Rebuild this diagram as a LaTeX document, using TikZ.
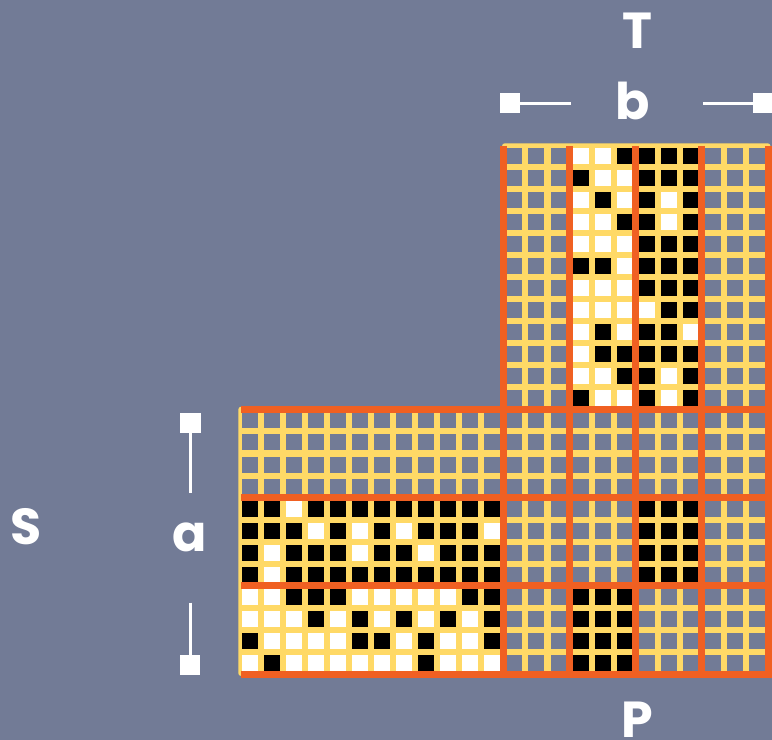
\documentclass[tikz,border=0pt]{standalone}
\usepackage{fontspec}
\setmainfont{Poppins}
\usepackage{tikz}
\usetikzlibrary{arrows.meta,positioning}
\definecolor{slate}{RGB}{114,123,150}
\definecolor{gridyellow}{RGB}{255,217,102}
\definecolor{blockorange}{RGB}{240,96,34}
\colorlet{cw}{white}
\colorlet{cb}{black}

\begin{document}
\begin{tikzpicture}[
    x=0.025cm, y=-0.025cm,
    lbl/.style={text=white, font=\fontsize{36}{40}\selectfont\bfseries, inner sep=0pt, anchor=base},
    dimline/.style={draw=white, line width=0.075cm, -{Square[length=0.5cm, width=0.5cm]}},
    band/.style={draw=blockorange, line width=0.175cm},
    cellsq/.style={fill=#1},
]
\useasboundingbox[fill=slate] (0,0) rectangle (772,740);

% yellow grid
\fill[gridyellow, rounded corners=2] (502,143.3) rectangle (770.5,409.3);
\fill[gridyellow, rounded corners=2] (238.3,406.7) rectangle (770.5,676);

% empty cells
\foreach \r in {0,...,11}
  \foreach \c in {12,...,23}
    \fill[slate] ({238.5+22.07*\c+3.03},{144.5+22.07*\r+3.03}) rectangle ++(16,16);
\foreach \r in {12,...,23}
  \foreach \c in {0,...,23}
    \fill[slate] ({238.5+22.07*\c+3.03},{144.5+22.07*\r+3.03}) rectangle ++(16,16);

% T
\foreach \row [count=\r from 0] in {
    {w,w,b,b,b,b},{b,w,w,b,b,b},{w,b,w,b,w,b},{w,w,b,b,w,b},
    {w,w,w,b,b,b},{b,b,w,b,b,b},{w,w,w,b,b,b},{w,w,w,w,b,b},
    {w,b,w,b,b,w},{w,b,b,b,b,b},{w,w,b,b,w,b},{b,w,w,b,w,b}}
  \foreach \v [count=\c from 15] in \row
    \fill[cellsq=c\v] ({238.5+22.07*\c+3.03},{144.5+22.07*\r+3.03}) rectangle ++(16,16);

% S
\foreach \row [count=\r from 16] in {
    {b,b,w,b,b,b,b,b,b,b,b,b},{b,b,b,w,b,w,b,w,b,b,b,w},
    {b,w,b,b,b,w,b,b,w,b,b,b},{b,w,b,b,b,b,b,b,b,b,b,b},
    {w,w,b,b,b,w,w,w,w,w,b,b},{w,w,w,b,w,b,w,b,w,b,w,b},
    {b,w,w,w,w,b,b,w,b,w,w,b},{w,b,w,w,w,w,w,w,b,w,w,w}}
  \foreach \v [count=\c from 0] in \row
    \fill[cellsq=c\v] ({238.5+22.07*\c+3.03},{144.5+22.07*\r+3.03}) rectangle ++(16,16);

% P
\foreach \r in {16,...,19}
  \foreach \c in {18,19,20}
    \fill[cellsq=cb] ({238.5+22.07*\c+3.03},{144.5+22.07*\r+3.03}) rectangle ++(16,16);
\foreach \r in {20,...,23}
  \foreach \c in {15,16,17}
    \fill[cellsq=cb] ({238.5+22.07*\c+3.03},{144.5+22.07*\r+3.03}) rectangle ++(16,16);

% block borders
\foreach \c in {12,15,18,21,24}
  \draw[band] ({238.5+22.07*\c},146) -- ({238.5+22.07*\c},677);
\foreach \r in {12,16,20,24}
  \draw[band] (241,{144.5+22.07*\r}) -- (772,{144.5+22.07*\r});

% labels
\node[lbl] (T) at (637,48.3) {T};
\node[lbl] (b) at (632.5,120) {b};
\node[lbl] (S) at (25.7,545) {S};
\node[lbl] (a) at (190,552) {a};
\node[lbl] (P) at (637.5,738) {P};

\coordinate (bleft) at (500,103.5);
\coordinate (bright) at (773,103.5);
\coordinate (atop) at (190.5,413);
\coordinate (abot) at (190,675);

\draw[dimline, shorten <=1.1cm] (b.west |- bleft) -- (bleft);
\draw[dimline, shorten <=1.32cm] (b.east |- bright) -- (bright);
\draw[dimline, shorten <=0.75cm] (a.north -| atop) -- (atop);
\draw[dimline, shorten <=1.25cm] (a.south -| abot) -- (abot);
\end{tikzpicture}
\end{document}
